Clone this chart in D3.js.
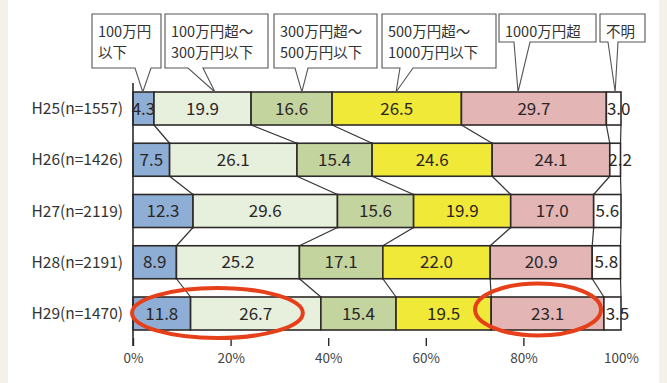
<!DOCTYPE html>
<html>
<head>
<meta charset="utf-8">
<script src="https://cdn.jsdelivr.net/npm/d3@7"></script>
<style>
  html, body { margin: 0; padding: 0; background: #ffffff; }
  svg { display: block; }
  text { font-family: "Noto Sans CJK JP", "Noto Sans", sans-serif; }
</style>
</head>
<body>
<svg id="chart" width="667" height="383"></svg>
<script>
// Survey years (rows) and income-band shares (%)
const years = ["H25(n=1557)", "H26(n=1426)", "H27(n=2119)", "H28(n=2191)", "H29(n=1470)"];
const bands = ["100万円以下", "100万円超～300万円以下", "300万円超～500万円以下", "500万円超～1000万円以下", "1000万円超", "不明"];
const under100   = [4.3, 7.5, 12.3, 8.9, 11.8];
const from100    = [19.9, 26.1, 29.6, 25.2, 26.7];
const from300    = [16.6, 15.4, 15.6, 17.1, 15.4];
const from500    = [26.5, 24.6, 19.9, 22.0, 19.5];
const over1000   = [29.7, 24.1, 17.0, 20.9, 23.1];
const unknown    = [3.0, 2.2, 5.6, 5.8, 3.5];
const ticks      = [0, 20, 40, 60, 80, 100];

// Callout labels for the bands (line-split) and the share they point at on the first row
const calloutLines = [["100万円", "以下"], ["100万円超～", "300万円以下"], ["300万円超～", "500万円以下"], ["500万円超～", "1000万円以下"], ["1000万円超"], ["不明"]];
const calloutTip   = [2.0, 16.8, 34.6, 53.9, 78.9, 98.8];

const series = [under100, from100, from300, from500, over1000, unknown];
const colors = ["#8eaed5", "#e7efdd", "#c3d49f", "#f1e937", "#e3b5b5", "#ffffff"];

(function draw() {
  const svg = d3.select("#chart");
  const W = 667, H = 383;

  // side margins of the page
  svg.append("rect").attr("x", 0).attr("y", 0).attr("width", W).attr("height", H).attr("fill", "#ffffff");
  svg.append("rect").attr("x", 0).attr("y", 0).attr("width", 8).attr("height", H).attr("fill", "#f4f1ea");
  svg.append("rect").attr("x", 659).attr("y", 0).attr("width", 8).attr("height", H).attr("fill", "#f4f1ea");

  const x = d3.scaleLinear().domain([0, 100]).range([133, 621]);
  const y = d3.scaleBand().domain(years).range([92, 330]).paddingInner(0.356).paddingOuter(0);
  const bw = y.bandwidth();

  // stacked rows
  const rows = years.map((yr, i) => {
    let acc = 0;
    return series.map((s, k) => {
      const seg = { year: yr, k, v: s[i], x0: acc, x1: acc + s[i] };
      acc += s[i];
      return seg;
    });
  });

  // connector lines between consecutive rows at each cumulative boundary
  const gConn = svg.append("g");
  for (let i = 0; i < rows.length - 1; i++) {
    rows[i].forEach((seg, k) => {
      gConn.append("line")
        .attr("x1", x(seg.x1)).attr("y1", y(years[i]) + bw)
        .attr("x2", x(rows[i + 1][k].x1)).attr("y2", y(years[i + 1]))
        .attr("stroke", "#333").attr("stroke-width", 1.2);
    });
  }

  // bars
  const gBars = svg.append("g");
  rows.forEach(row => {
    gBars.selectAll(null).data(row).enter().append("rect")
      .attr("x", d => x(d.x0))
      .attr("y", d => y(d.year))
      .attr("width", d => x(d.x1) - x(d.x0))
      .attr("height", bw)
      .attr("fill", d => colors[d.k])
      .attr("stroke", "#2e2a28").attr("stroke-width", 1.6);
  });

  // vertical axis line
  svg.append("line").attr("x1", x(0)).attr("x2", x(0)).attr("y1", 83).attr("y2", 346)
    .attr("stroke", "#2e2a28").attr("stroke-width", 1.6);

  // value labels (very narrow end segments nudge their label outward)
  rows.forEach(row => {
    svg.selectAll(null).data(row).enter().append("text")
      .attr("x", d => (x(d.x0) + x(d.x1)) / 2 + (d.k === series.length - 1 && x(d.x1) - x(d.x0) < 20 ? 5 : 0))
      .attr("y", d => y(d.year) + bw / 2)
      .attr("dy", "0.36em")
      .attr("text-anchor", "middle")
      .attr("font-size", 17)
      .attr("fill", "#2b2626")
      .text(d => d.v.toFixed(1));
  });

  // category labels
  svg.selectAll(null).data(years).enter().append("text")
    .attr("x", 123).attr("y", d => y(d) + bw / 2).attr("dy", "0.36em")
    .attr("text-anchor", "end").attr("font-size", 15.5).attr("fill", "#333")
    .text(d => d);

  // bottom axis
  const axis = d3.axisBottom(x).tickValues(ticks).tickFormat(d => d + "%").tickSize(8).tickPadding(7);
  const gAxis = svg.append("g").attr("transform", "translate(0,338)").call(axis);
  gAxis.select(".domain").remove();
  gAxis.selectAll(".tick line").attr("stroke", "#2e2a28").attr("stroke-width", 1.4)
    .attr("opacity", d => (d === 100 ? 0 : 1));
  gAxis.selectAll(".tick text").attr("font-size", 13.5).attr("fill", "#444")
    .attr("font-family", "'Noto Sans CJK JP', 'Noto Sans', sans-serif");

  // callout boxes
  const boxLayout = [
    { l: 92,  r: 161, b: 68, p0: 135, p1: 151 },
    { l: 165, r: 268, b: 68, p0: 188, p1: 203 },
    { l: 274, r: 377, b: 68, p0: 295, p1: 308 },
    { l: 382, r: 496, b: 68, p0: 400, p1: 413 },
    { l: 499, r: 596, b: 42, p0: 514, p1: 530 },
    { l: 600, r: 645, b: 42, p0: 608, p1: 618 }
  ];
  const boxTop = 14, tipY = 92;
  const gCall = svg.append("g");
  boxLayout.forEach((b, i) => {
    const tx = x(calloutTip[i]);
    const path = d3.path();
    path.moveTo(b.l, boxTop);
    path.lineTo(b.r, boxTop);
    path.lineTo(b.r, b.b);
    path.lineTo(b.p1, b.b);
    path.lineTo(tx, tipY);
    path.lineTo(b.p0, b.b);
    path.lineTo(b.l, b.b);
    path.closePath();
    gCall.append("path").attr("d", path.toString())
      .attr("fill", "#ffffff").attr("stroke", "#555").attr("stroke-width", 1.1);
    calloutLines[i].forEach((line, j) => {
      gCall.append("text")
        .attr("x", b.l + 6).attr("y", 37 + j * 21)
        .attr("font-size", 14.5).attr("fill", "#333")
        .text(line);
    });
  });

  // highlight rings on the latest year
  const cy = y(years[years.length - 1]) + bw / 2;
  const rings = [
    { a: -0.2, b: 34.8, cy: cy - 0.5, ry: 25 },
    { a: 70.1, b: 95.9, cy: cy - 4, ry: 26 }
  ];
  svg.selectAll(null).data(rings).enter().append("ellipse")
    .attr("cx", d => (x(d.a) + x(d.b)) / 2)
    .attr("cy", d => d.cy)
    .attr("rx", d => (x(d.b) - x(d.a)) / 2)
    .attr("ry", d => d.ry)
    .attr("fill", "none").attr("stroke", "#e6401b").attr("stroke-width", 4);
})();
</script>
</body>
</html>
